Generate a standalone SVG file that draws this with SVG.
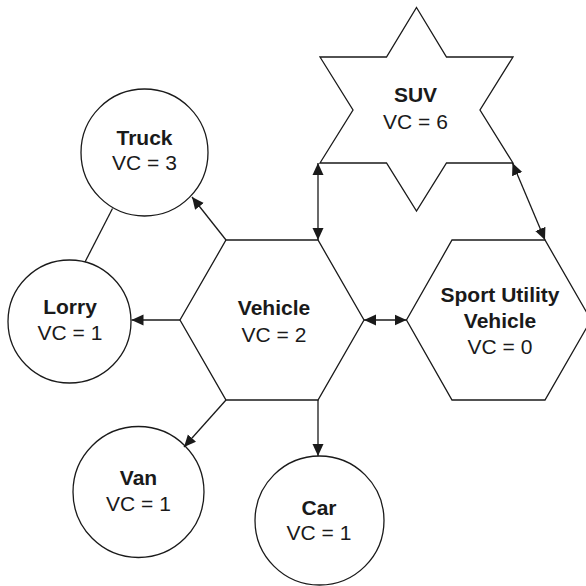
<svg xmlns="http://www.w3.org/2000/svg" width="586" height="586" viewBox="0 0 586 586">
<style>
.shape{fill:#ffffff;stroke:#1a1a1a;stroke-width:1.3}
.conn{fill:none;stroke:#1a1a1a;stroke-width:1.3}
text{font-family:"Liberation Sans",Arial,Helvetica,sans-serif;font-size:21px;fill:#1a1a1a;text-anchor:middle}
.b{font-weight:bold}
</style>
<defs>
<marker id="arr" viewBox="0 0 12 12" refX="12" refY="6" markerWidth="12" markerHeight="12" markerUnits="userSpaceOnUse" orient="auto-start-reverse">
<path d="M0,0.5 L12,6 L0,11.5 z" fill="#1a1a1a"/>
</marker>
</defs>
<rect width="586" height="586" fill="#ffffff"/>
<g id="suv">
<polygon class="shape" points="416.5,7.5 446.5,57 513,57 480,110 513,163 446.5,163 416.5,211 386.5,163 320,163 353,110 320,57 386.5,57"/>
<text class="b" x="415.5" y="102">SUV</text>
<text x="415.5" y="129">VC = 6</text>
</g>
<g id="vehicle">
<polygon class="shape" points="226,240 318,240 364,320 318,400 226,400 180,320"/>
<text class="b" x="274" y="315">Vehicle</text>
<text x="274" y="341.5">VC = 2</text>
</g>
<g id="sport">
<polygon class="shape" points="452,240 545,240 591,320 545,400 452,400 406.5,320"/>
<text class="b" x="500" y="301.5">Sport Utility</text>
<text class="b" x="500" y="327.5">Vehicle</text>
<text x="500" y="353.5">VC = 0</text>
</g>
<g id="truck">
<circle class="shape" cx="144.5" cy="152.5" r="63.5"/>
<text class="b" x="144.5" y="144.5">Truck</text>
<text x="144.5" y="170">VC = 3</text>
</g>
<g id="lorry">
<circle class="shape" cx="69.5" cy="321.5" r="61.5"/>
<text class="b" x="70" y="314">Lorry</text>
<text x="70" y="340">VC = 1</text>
</g>
<g id="van">
<circle class="shape" cx="138.5" cy="492" r="65.5"/>
<text class="b" x="138.5" y="485">Van</text>
<text x="138.5" y="510.5">VC = 1</text>
</g>
<g id="car">
<circle class="shape" cx="319.5" cy="520.5" r="64.5"/>
<text class="b" x="319" y="514.5">Car</text>
<text x="319" y="540">VC = 1</text>
</g>
<g id="connectors">
<line class="conn" x1="226" y1="240" x2="192" y2="197" marker-end="url(#arr)"/>
<line class="conn" x1="180" y1="320" x2="131.5" y2="320" marker-end="url(#arr)"/>
<line class="conn" x1="226" y1="400" x2="184" y2="447" marker-end="url(#arr)"/>
<line class="conn" x1="318" y1="400" x2="318" y2="456" marker-end="url(#arr)"/>
<line class="conn" x1="364" y1="320" x2="406.5" y2="320" marker-start="url(#arr)" marker-end="url(#arr)"/>
<line class="conn" x1="318" y1="240" x2="318" y2="163" marker-start="url(#arr)" marker-end="url(#arr)"/>
<line class="conn" x1="512.5" y1="163" x2="545" y2="240" marker-start="url(#arr)" marker-end="url(#arr)"/>
<line class="conn" x1="112.5" y1="208.5" x2="85" y2="262"/>
</g>
</svg>
